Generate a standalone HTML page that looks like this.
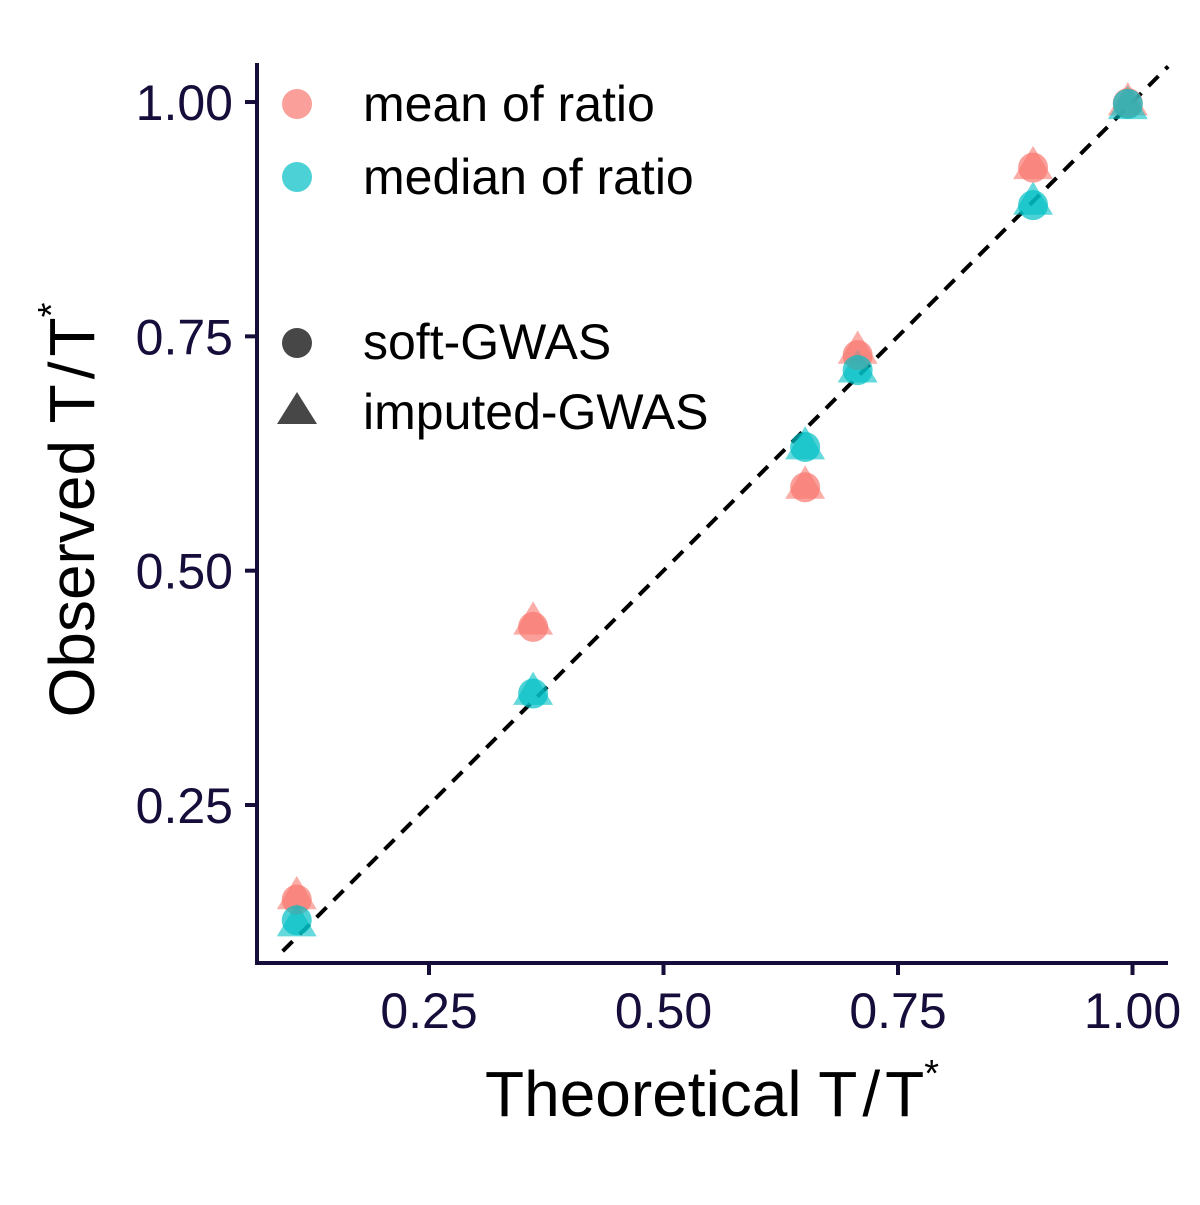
<!DOCTYPE html>
<html><head><meta charset="utf-8"><style>
body{margin:0;background:#fff}
text{font-family:"Liberation Sans",Arial,sans-serif}
</style></head><body>
<svg id="chart" width="1200" height="1200" xmlns="http://www.w3.org/2000/svg">
<rect width="1200" height="1200" fill="#fff"/>
<g id="marks"></g>
<g id="axes"></g>
<g id="legend"></g>
</svg>
<script>
const xVals=[0.109,0.361,0.651,0.707,0.894,0.995];
const meanSoft=[0.149,0.440,0.589,0.730,0.930,0.999];
const meanImputed=[0.154,0.447,0.592,0.736,0.933,1.001];
const medianSoft=[0.127,0.369,0.632,0.714,0.890,0.998];
const medianImputed=[0.125,0.372,0.634,0.716,0.895,0.997];
const tickVals=[0.25,0.5,0.75,1.0];
const tickLabels=["0.25","0.50","0.75","1.00"];

const NS="http://www.w3.org/2000/svg";
const xs=v=>429+(v-0.25)*938;
const ys=v=>805-(v-0.25)*937.3;
const AX="#170d3a";
function mk(tag,attrs,parent){const e=document.createElementNS(NS,tag);for(const k in attrs)e.setAttribute(k,attrs[k]);parent.appendChild(e);return e;}
const marks=document.getElementById('marks'),axes=document.getElementById('axes'),leg=document.getElementById('legend');

let rl=mk('line',{x1:xs(0.094),y1:ys(0.094),x2:xs(1.038),y2:ys(1.038),stroke:'#000','stroke-width':4,'stroke-dasharray':'14,10'},marks);



function circ(cx,cy,col,parent,name){const c=mk('circle',{cx:cx,cy:cy,r:15,fill:col,'fill-opacity':0.7},parent);

return c;}
function tri(cx,cy,col,parent,name){const s=19;const p=mk('polygon',{points:`${cx},${cy-s} ${cx-s*1.05},${cy+s*0.75} ${cx+s*1.05},${cy+s*0.75}`,fill:col,'fill-opacity':0.6},parent);

return p;}
const RED="#F8766D",TEAL="#00BFC4";
xVals.forEach((x,i)=>{
  tri(xs(x),ys(meanImputed[i]),RED,marks,'mean-imputed-point');
  tri(xs(x),ys(medianImputed[i]),TEAL,marks,'median-imputed-point');
  circ(xs(x),ys(meanSoft[i]),RED,marks,'mean-soft-point');
  circ(xs(x),ys(medianSoft[i]),TEAL,marks,'median-soft-point');
});

let xa=mk('line',{x1:256,y1:963,x2:1168,y2:963,stroke:AX,'stroke-width':4},axes);


let ya=mk('line',{x1:257,y1:63,x2:257,y2:965,stroke:AX,'stroke-width':4},axes);


tickVals.forEach((v,i)=>{
  mk('line',{x1:xs(v),y1:963,x2:xs(v),y2:975,stroke:AX,'stroke-width':4},axes);
  let t=mk('text',{x:xs(v),y:1028,'text-anchor':'middle','font-size':50,fill:AX},axes);t.textContent=tickLabels[i];
  
  
  mk('line',{x1:245,y1:ys(v),x2:257,y2:ys(v),stroke:AX,'stroke-width':4},axes);
  let t2=mk('text',{x:233,y:ys(v)+18,'text-anchor':'end','font-size':50,fill:AX},axes);t2.textContent=tickLabels[i];
  
  
});
let xt=mk('text',{x:712,y:1116,'text-anchor':'middle','font-size':64,fill:'#000'},axes);
xt.innerHTML='Theoretical T<tspan dx="5">/</tspan><tspan dx="5">T</tspan><tspan dy="-30" font-size="38">*</tspan>';


let yt=mk('text',{x:0,y:0,'text-anchor':'middle','font-size':64,fill:'#000',transform:'translate(94,510) rotate(-90)'},axes);
yt.innerHTML='Observed T<tspan dx="5">/</tspan><tspan dx="5">T</tspan><tspan dy="-30" font-size="38">*</tspan>';



circ(297,104,RED,leg,'legend-mean-key');
circ(297,177,TEAL,leg,'legend-median-key');
let c3=mk('circle',{cx:297,cy:343,r:15,fill:'#333','fill-opacity':0.9},leg);


let p3=mk('polygon',{points:'297,392 277,424 317,424',fill:'#333','fill-opacity':0.9},leg);


[['mean of ratio',121,'legend-mean-label'],['median of ratio',194,'legend-median-label'],['soft-GWAS',359,'legend-soft-label'],['imputed-GWAS',429,'legend-imputed-label']].forEach(([s,y,n])=>{
  let t=mk('text',{x:363,y:y,'font-size':50,fill:'#000'},leg);t.textContent=s;
  
  
});
</script>
</body></html>
